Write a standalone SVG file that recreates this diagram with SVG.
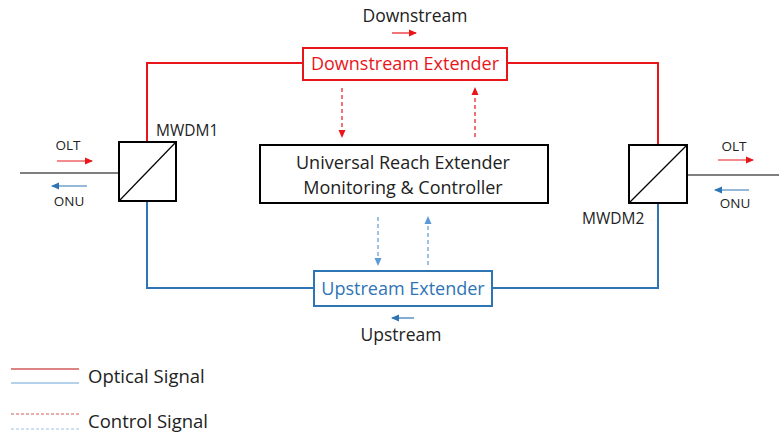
<svg xmlns="http://www.w3.org/2000/svg" width="779" height="436" viewBox="0 0 779 436">
<style>
text{font-family:"Open Sans","Liberation Sans",sans-serif;fill:#222;}
.red{stroke:#e8161b;fill:none;stroke-width:2}
.blue{stroke:#2e75b6;fill:none;stroke-width:2}
.dred{stroke:#e8161b;fill:none;stroke-width:1.2;stroke-dasharray:4 3}
.dblue{stroke:#5b9bd5;fill:none;stroke-width:1.2;stroke-dasharray:4 3}
.blk{stroke:#000;fill:none;stroke-width:1.2}
.box{fill:#fff;stroke:#000;stroke-width:2}
</style>
<defs>
<marker id="ar" markerWidth="8" markerHeight="8" refX="7" refY="4" orient="auto" markerUnits="userSpaceOnUse"><path d="M0,0.5 L8,4 L0,7.5z" fill="#e8161b"/></marker>
<marker id="ab" markerWidth="8" markerHeight="8" refX="7" refY="4" orient="auto" markerUnits="userSpaceOnUse"><path d="M0,0.5 L8,4 L0,7.5z" fill="#2e75b6"/></marker>
<marker id="abl" markerWidth="8" markerHeight="8" refX="7" refY="4" orient="auto" markerUnits="userSpaceOnUse"><path d="M0,0.5 L8,4 L0,7.5z" fill="#5b9bd5"/></marker>
</defs>
<g id="connectors">
<polyline class="red" points="147,142 147,63 303,63"/>
<polyline class="red" points="507,63 658,63 658,145"/>
<polyline class="blue" points="147,201 147,288 314,288"/>
<polyline class="blue" points="492,288 658,288 658,203"/>
<line class="blk" x1="20" y1="173" x2="119" y2="173"/>
<line class="blk" x1="687" y1="175" x2="779" y2="175"/>
<line class="dred" x1="342" y1="88" x2="342" y2="137" marker-end="url(#ar)"/>
<line class="dred" x1="475" y1="137" x2="475" y2="88" marker-end="url(#ar)"/>
<line class="dblue" x1="378" y1="217" x2="378" y2="265" marker-end="url(#abl)"/>
<line class="dblue" x1="428" y1="265" x2="428" y2="217" marker-end="url(#abl)"/>
</g>
<g id="flow-labels">
<text x="415" y="22" font-size="17.5" text-anchor="middle">Downstream</text>
<line stroke="#e8161b" stroke-width="1.2" x1="392" y1="33" x2="416" y2="33" marker-end="url(#ar)"/>
<line stroke="#2e75b6" stroke-width="1.2" x1="414" y1="318" x2="392" y2="318" marker-end="url(#ab)"/>
<text x="401" y="341" font-size="17.5" text-anchor="middle">Upstream</text>
<text x="68" y="150" font-size="13.5" text-anchor="middle">OLT</text>
<line stroke="#e8161b" stroke-width="1.2" x1="57" y1="161" x2="92" y2="161" marker-end="url(#ar)"/>
<line stroke="#2e75b6" stroke-width="1.2" x1="87" y1="186" x2="52" y2="186" marker-end="url(#ab)"/>
<text x="69" y="206" font-size="13.5" text-anchor="middle">ONU</text>
<text x="734" y="151" font-size="13.5" text-anchor="middle">OLT</text>
<line stroke="#e8161b" stroke-width="1.2" x1="718" y1="160" x2="753" y2="160" marker-end="url(#ar)"/>
<line stroke="#2e75b6" stroke-width="1.2" x1="749" y1="190" x2="715" y2="190" marker-end="url(#ab)"/>
<text x="735" y="208" font-size="13.5" text-anchor="middle">ONU</text>
</g>
<g id="mwdm1">
<rect class="box" x="119" y="142" width="57" height="59"/>
<line class="blk" stroke-width="2" x1="119" y1="201" x2="176" y2="142"/>
<text x="156" y="136" font-size="15.5">MWDM1</text>
</g>
<g id="mwdm2">
<rect class="box" x="629" y="145" width="58" height="58"/>
<line class="blk" stroke-width="2" x1="629" y1="203" x2="687" y2="145"/>
<text x="582" y="224" font-size="15.5">MWDM2</text>
</g>
<g id="downstream-extender">
<rect x="303" y="48" width="204" height="32" fill="#fff" stroke="#e8161b" stroke-width="2"/>
<text x="405" y="70" font-size="18" text-anchor="middle" style="fill:#e8161b">Downstream Extender</text>
</g>
<g id="controller">
<rect class="box" x="260" y="145" width="288" height="58"/>
<text x="403" y="169" font-size="18" text-anchor="middle">Universal Reach Extender</text>
<text x="403" y="194" font-size="18" text-anchor="middle">Monitoring &amp; Controller</text>
</g>
<g id="upstream-extender">
<rect x="314" y="271" width="178" height="35" fill="#fff" stroke="#2e75b6" stroke-width="2"/>
<text x="403" y="295" font-size="18" text-anchor="middle" style="fill:#2e75b6">Upstream Extender</text>
</g>
<g id="legend">
<line stroke="#d05a5a" stroke-width="1.5" x1="11" y1="369" x2="79" y2="369"/>
<line stroke="#9dc3e6" stroke-width="1.5" x1="11" y1="383" x2="79" y2="383"/>
<text x="88" y="383" font-size="18.5">Optical  Signal</text>
<line stroke="#d05a5a" stroke-width="1" stroke-dasharray="3 2" x1="11" y1="414" x2="79" y2="414"/>
<line stroke="#9dc3e6" stroke-width="1" stroke-dasharray="3 2" x1="11" y1="429" x2="79" y2="429"/>
<text x="88" y="428" font-size="18.5">Control Signal</text>
</g>
</svg>
